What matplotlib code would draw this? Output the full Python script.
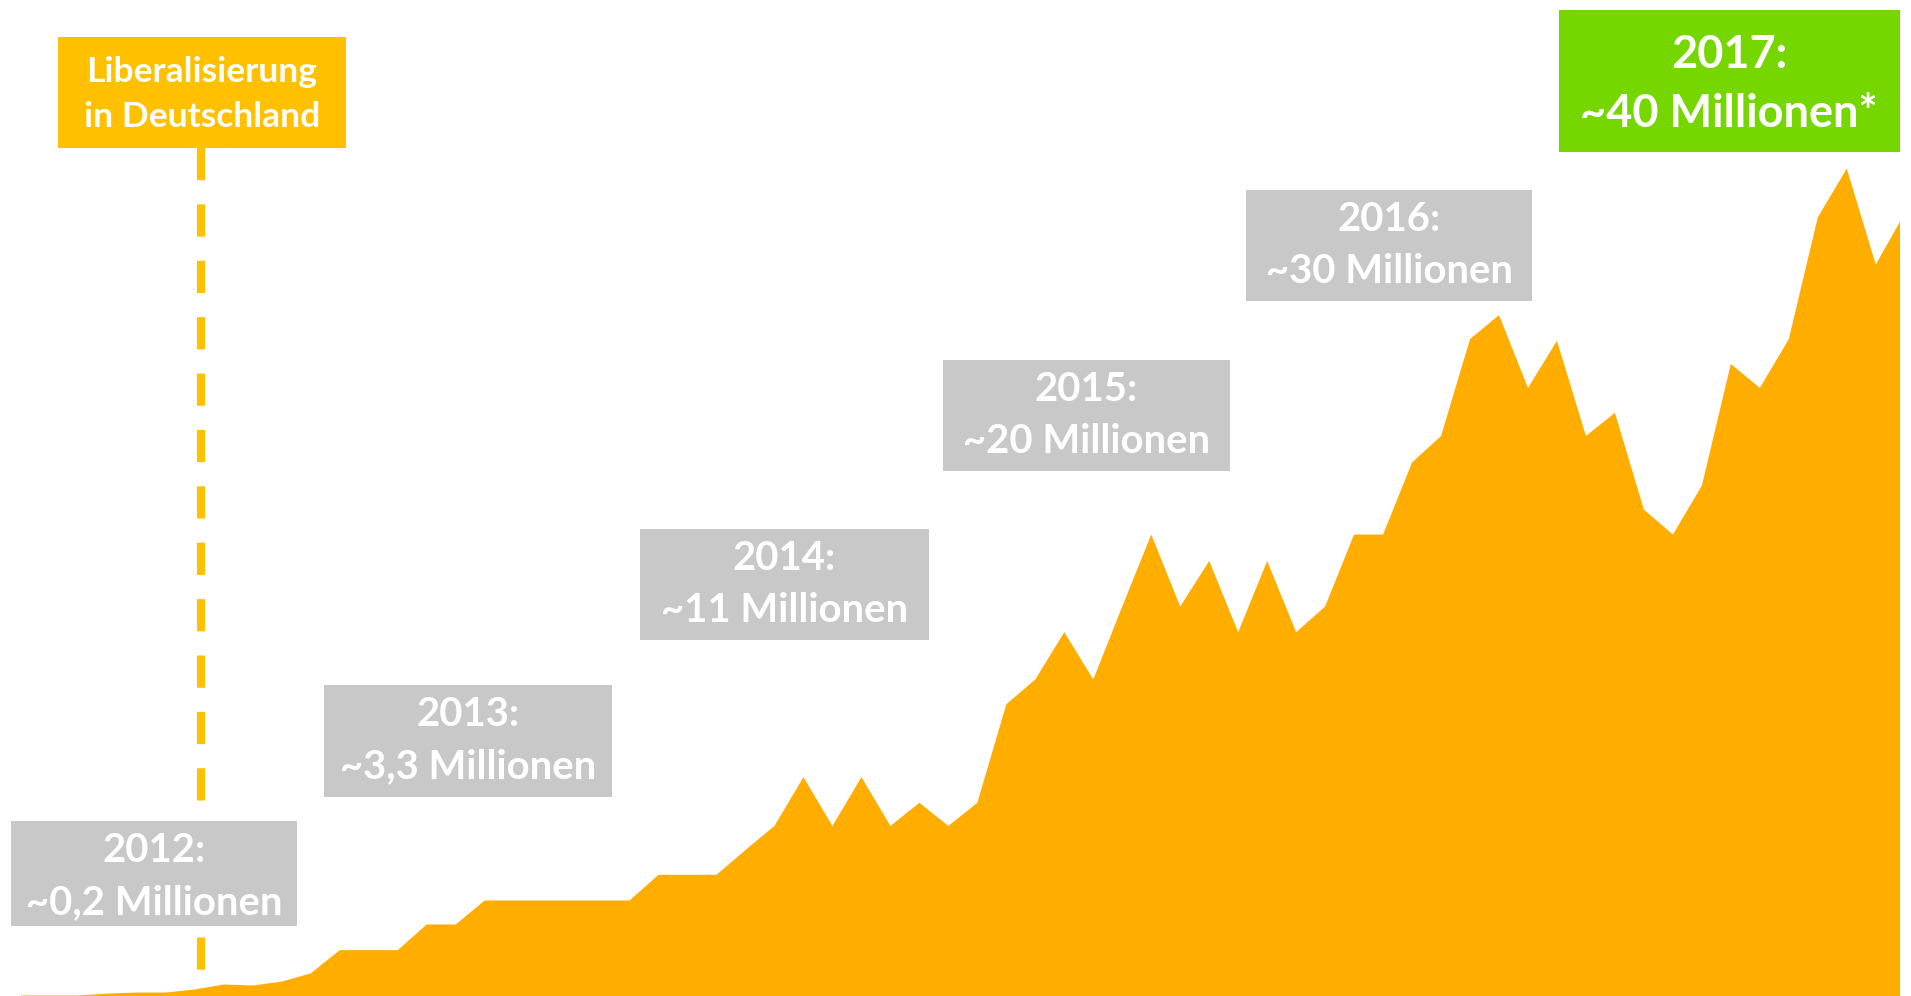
import matplotlib
matplotlib.use("Agg")
import matplotlib.pyplot as plt
from matplotlib.patches import Rectangle
from matplotlib.lines import Line2D
import numpy as np

# DATA (index values, peak = 100)
zeitpunkt = np.arange(66)
werte = [0.12, 0.12, 0.12, 0.36, 0.48, 0.48, 0.85, 1.45, 1.33, 1.8,
         2.8, 5.6, 5.6, 5.6, 8.7, 8.7, 11.6, 11.6, 11.6, 11.6,
         11.6, 11.6, 14.7, 14.7, 14.7, 17.7, 20.6, 26.5, 20.6, 26.5,
         20.6, 23.4, 20.6, 23.4, 35.3, 38.3, 44.0, 38.3, 47.1, 55.8,
         47.1, 52.6, 44.0, 52.6, 44.0, 47.1, 55.8, 55.8, 64.5, 67.7,
         79.4, 82.3, 73.5, 79.2, 67.7, 70.5, 58.8, 55.8, 61.7, 76.4,
         73.5, 79.4, 94.1, 100.0, 88.4, 94.6]

jahre = ['2012:', '2013:', '2014:', '2015:', '2016:', '2017:']
nutzer = ['~0,2 Millionen', '~3,3 Millionen', '~11 Millionen',
          '~20 Millionen', '~30 Millionen', '~40 Millionen*']
ereignis = ['Liberalisierung', 'in Deutschland']

# COLOURS
ORANGE = '#FFAE00'
GELB = '#FFC000'
GRAU = '#C8C8C8'
GRUEN = '#76D700'

W, H = 1911, 996
fig = plt.figure(figsize=(W / 100, H / 100), dpi=100)
plt.rcParams['font.family'] = ['Lato', 'DejaVu Sans']

# axes in pixel position (left 16, right 1899, full height)
ax = fig.add_axes([16 / W, 0, (1899 - 16) / W, 1])
ax.fill_between(zeitpunkt, werte, 0, color=ORANGE, lw=0)
ax.set_xlim(-0.155, 64.82)
ax.set_ylim(0, 120.3)
ax.axis('off')


def fx(x):
    return x / W


def fy(y):
    return 1 - y / H


def box(x0, y0, x1, y1, farbe, z=2):
    fig.add_artist(Rectangle((fx(x0), fy(y1)), fx(x1 - x0), (y1 - y0) / H,
                             transform=fig.transFigure, color=farbe, lw=0, zorder=z))


def text(x, y, s, size):
    fig.text(fx(x), fy(y), s, ha='center', va='baseline', color='white',
             fontsize=size, fontweight='bold', zorder=4)


# dashed line (Liberalisierung)
fig.add_artist(Line2D([fx(201), fx(201)], [fy(148), fy(970)], transform=fig.transFigure,
                      color=GELB, lw=5.8, linestyle=(0, (4, 3)), dash_capstyle='butt', zorder=1))

# Liberalisierung box
box(58, 37, 346, 148, GELB)
text(202, 82, ereignis[0], 25.5)
text(202, 127, ereignis[1], 25.5)

# year boxes: (x0, y0, x1, y1)
boxen = [(11, 821, 297, 926), (324, 685, 612, 797), (640, 529, 929, 640),
         (943, 360, 1230, 471), (1246, 190, 1532, 301)]
for (x0, y0, x1, y1), j, n in zip(boxen, jahre[:5], nutzer[:5]):
    box(x0, y0, x1, y1, GRAU)
    mitte = (x0 + x1) / 2
    text(mitte, y0 + 41, j, 28.8)
    text(mitte, y0 + 93, n, 28.8)

# 2017 box
box(1559, 10, 1900, 152, GRUEN)
text(1729, 68, jahre[5], 32.5)
text(1729, 127, nutzer[5], 32.5)

plt.savefig('out.png', dpi=100)
